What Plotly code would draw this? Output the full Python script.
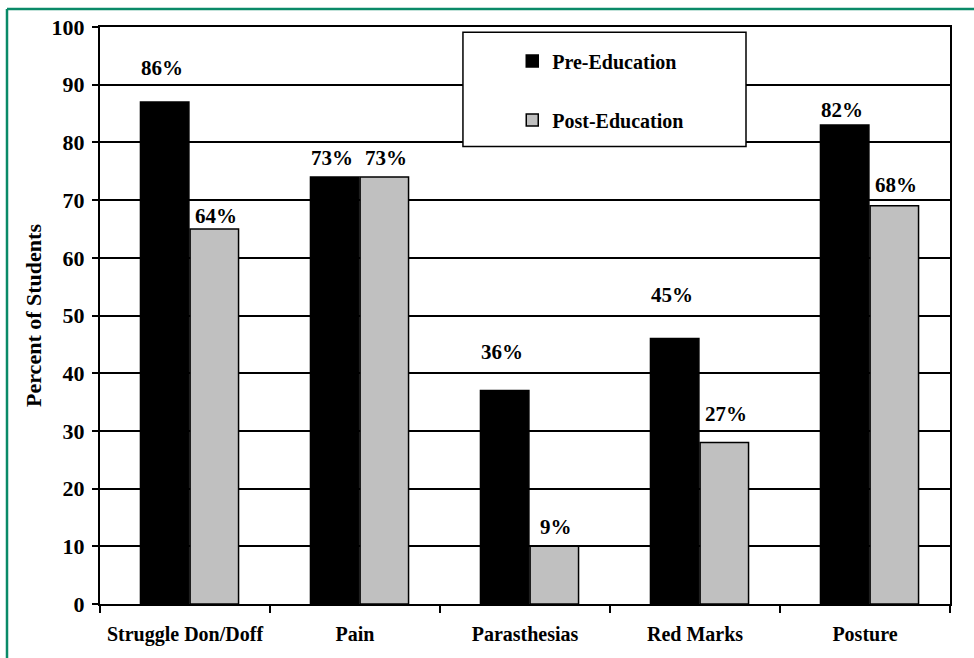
import plotly.graph_objects as go

categories = ["Struggle Don/Doff", "Pain", "Parasthesias", "Red Marks", "Posture"]
pre_values = [87, 74, 37, 46, 83]
post_values = [65, 74, 10, 28, 69]
pre_labels = ["86%", "73%", "36%", "45%", "82%"]
post_labels = ["64%", "73%", "9%", "27%", "68%"]
y_ticks = [0, 10, 20, 30, 40, 50, 60, 70, 80, 90, 100]

# label vertical offsets (px above bar top) as in the original
pre_shift = [34, 19, 39, 44, 15]
post_shift = [13, 19, 19, 28, 21]

FONT = "Liberation Serif"
BAR_W = 0.285
PRE_OFF = -0.262
POST_OFF = 0.030
GREEN = "#0a8a68"

fig = go.Figure()
fig.add_trace(go.Bar(
    x=categories, y=pre_values, name="<b>Pre-Education</b>",
    marker=dict(color="#000000", line=dict(color="#000000", width=1.5)),
    width=BAR_W, offset=PRE_OFF, legendgroup="pre",
))
fig.add_trace(go.Bar(
    x=categories, y=post_values, name="<b>Post-Education</b>",
    marker=dict(color="#c0c0c0", line=dict(color="#000000", width=1.5)),
    width=BAR_W, offset=POST_OFF, legendgroup="post",
))

annotations = []
cat_px = 850 / len(categories)
for i, c in enumerate(categories):
    annotations.append(dict(
        x=c, y=pre_values[i], xref="x", yref="y", text="<b>%s</b>" % pre_labels[i],
        showarrow=False, yanchor="middle", xanchor="center",
        xshift=(PRE_OFF + BAR_W / 2) * cat_px - 3, yshift=pre_shift[i],
        font=dict(family=FONT, size=21, color="black"),
    ))
    annotations.append(dict(
        x=c, y=post_values[i], xref="x", yref="y", text="<b>%s</b>" % post_labels[i],
        showarrow=False, yanchor="middle", xanchor="center",
        xshift=(POST_OFF + BAR_W / 2) * cat_px + 2, yshift=post_shift[i],
        font=dict(family=FONT, size=21, color="black"),
    ))

left_px = 7
top_px = 9
shapes = [
    # legend box
    dict(type="rect", xref="paper", yref="paper", x0=0.427, x1=0.760, y0=0.793, y1=0.991,
         fillcolor="white", line=dict(color="black", width=1.5), layer="above"),
    # green frame (left and top)
    dict(type="line", xref="paper", yref="paper",
         x0=(left_px - 100) / 850, x1=(left_px - 100) / 850, y0=-0.2, y1=(606 - top_px) / 579,
         line=dict(color=GREEN, width=2.5)),
    dict(type="line", xref="paper", yref="paper",
         x0=(left_px - 100) / 850, x1=1.1, y0=(606 - top_px) / 579, y1=(606 - top_px) / 579,
         line=dict(color=GREEN, width=2.5)),
]

fig.update_layout(
    width=974, height=658,
    margin=dict(l=100, r=24, t=27, b=52),
    paper_bgcolor="white", plot_bgcolor="white",
    barmode="group",
    font=dict(family=FONT, size=20, color="black"),
    showlegend=True,
    legend=dict(
        x=0.485, y=0.975, xanchor="left", yanchor="top",
        bgcolor="rgba(0,0,0,0)", borderwidth=0,
        font=dict(family=FONT, size=20, color="black"),
        tracegroupgap=30, itemwidth=30,
    ),
    annotations=annotations,
    shapes=shapes,
    xaxis=dict(
        showgrid=False, showline=True, linecolor="black", linewidth=2, mirror=True,
        ticks="outside", tickson="boundaries", ticklen=7, tickwidth=2, tickcolor="black",
        tickfont=dict(family=FONT, size=20, color="black", weight="bold"),
        ticklabelstandoff=11,
    ),
    yaxis=dict(
        range=[0, 100], tickvals=y_ticks,
        showgrid=True, gridcolor="black", gridwidth=1.5,
        showline=True, linecolor="black", linewidth=2, mirror=True,
        ticks="outside", ticklen=6, tickwidth=2, tickcolor="black",
        tickfont=dict(family=FONT, size=22, color="black", weight="bold"),
        ticklabelstandoff=3,
        title=dict(text="<b>Percent of Students</b>", font=dict(family=FONT, size=22, color="black"), standoff=4),
        zeroline=False,
    ),
)

fig.write_html("out.html")
